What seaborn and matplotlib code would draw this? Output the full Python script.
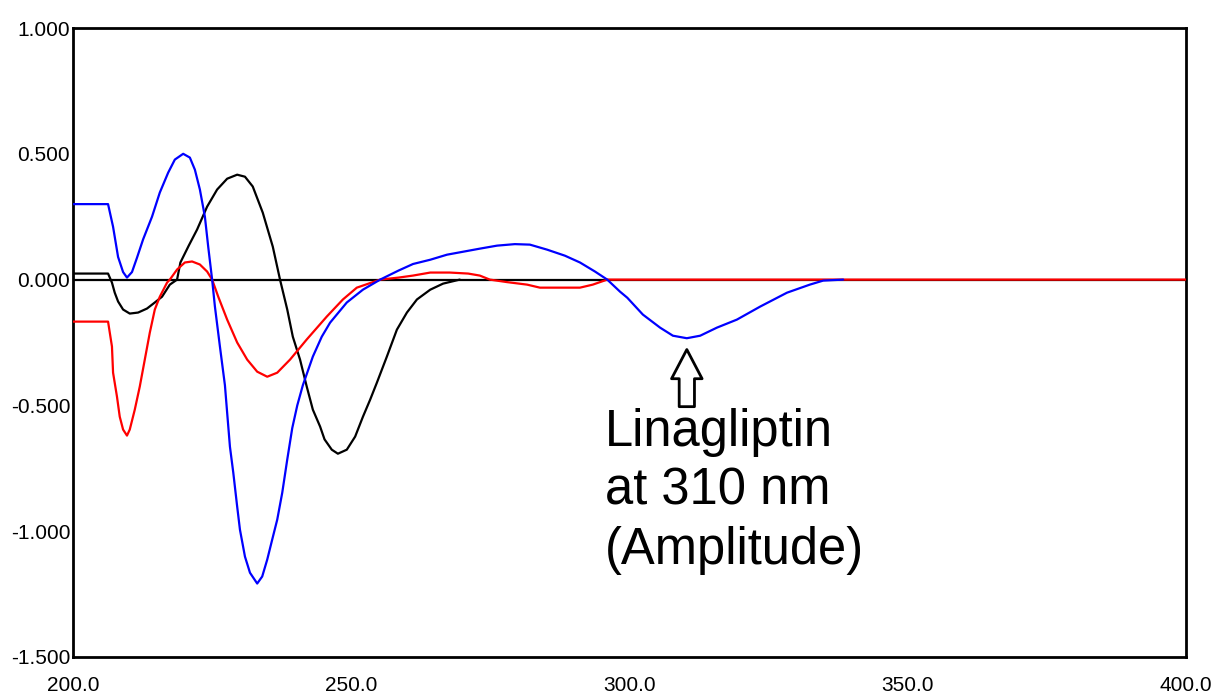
import matplotlib

matplotlib.use("Agg")
import matplotlib.pyplot as plt
import seaborn as sns

# wavelength (nm) / amplitude pairs
blue_x = [200.0, 206.3, 207.2, 208.1, 209.0, 209.7, 210.6, 211.5, 212.6, 214.2,
          215.6, 217.1, 218.3, 219.8, 221.0, 221.9, 222.8, 223.7, 224.3, 225.0,
          225.5, 226.4, 227.3, 227.7, 228.2, 228.8, 229.5, 230.0, 230.9, 231.8,
          233.1, 234.0, 234.9, 235.8, 236.7, 237.6, 238.5, 239.4, 240.3, 241.3,
          243.1, 244.7, 246.2, 249.2, 252.1, 255.2, 258.5, 261.1, 264.2, 267.2,
          273.1, 276.2, 279.4, 282.1, 285.2, 288.4, 291.1, 293.8, 296.0, 298.3,
          299.6, 302.4, 305.5, 307.8, 310.3, 312.7, 315.7, 319.3, 323.5, 328.3,
          332.4, 334.8, 338.4]
blue_y = [0.30, 0.30, 0.21, 0.09, 0.03, 0.008, 0.03, 0.087, 0.16, 0.25,
          0.346, 0.425, 0.477, 0.50, 0.485, 0.437, 0.358, 0.25, 0.13, 0.0,
          -0.107, -0.266, -0.42, -0.529, -0.664, -0.767, -0.902, -0.994, -1.101, -1.165,
          -1.208, -1.180, -1.113, -1.033, -0.954, -0.847, -0.715, -0.590, -0.500, -0.42,
          -0.306, -0.227, -0.171, -0.091, -0.040, 0.0, 0.036, 0.062, 0.079, 0.099,
          0.123, 0.135, 0.141, 0.139, 0.119, 0.095, 0.068, 0.032, 0.0, -0.048,
          -0.072, -0.139, -0.191, -0.223, -0.233, -0.223, -0.191, -0.159, -0.107, -0.052,
          -0.020, -0.004, 0.0]

red_x = [200.0, 206.3, 207.0, 207.2, 207.9, 208.4, 209.0, 209.7, 210.2, 211.1,
         212.0, 212.9, 213.8, 214.7, 215.6, 216.9, 217.4, 218.7, 220.1, 221.4,
         222.8, 224.1, 225.0, 226.1, 227.7, 229.5, 231.3, 233.1, 234.9, 236.7,
         239.0, 242.0, 245.6, 248.5, 251.0, 255.2, 258.5, 261.1, 264.2, 267.7,
         271.0, 273.1, 274.9, 278.0, 281.6, 283.9, 291.1, 293.4, 296.0, 400.0]
red_y = [-0.167, -0.167, -0.266, -0.37, -0.465, -0.545, -0.596, -0.62, -0.596, -0.517,
         -0.425, -0.318, -0.211, -0.119, -0.068, -0.012, 0.0, 0.04, 0.068, 0.072,
         0.06, 0.032, 0.0, -0.068, -0.159, -0.25, -0.318, -0.366, -0.386, -0.37,
         -0.318, -0.238, -0.147, -0.079, -0.032, 0.0, 0.008, 0.016, 0.028, 0.028,
         0.024, 0.016, 0.0, -0.010, -0.020, -0.032, -0.032, -0.020, 0.0, 0.0]

black_x = [200.0, 206.3, 207.0, 207.5, 208.1, 209.0, 210.2, 211.7, 213.3, 214.7,
           216.0, 217.4, 218.7, 219.3, 220.8, 222.3, 224.1, 225.9, 227.7, 229.5,
           230.9, 232.3, 234.1, 235.9, 237.2, 238.5, 239.5, 240.8, 242.0, 243.1,
           244.4, 245.2, 246.5, 247.6, 249.2, 250.7, 252.1, 253.4, 254.6, 256.4,
           258.2, 260.0, 261.8, 264.2, 266.5, 269.5]
black_y = [0.024, 0.024, -0.012, -0.052, -0.087, -0.119, -0.135, -0.131, -0.115, -0.091,
           -0.068, -0.020, 0.0, 0.068, 0.135, 0.199, 0.29, 0.358, 0.401, 0.417,
           0.409, 0.370, 0.266, 0.131, 0.0, -0.119, -0.227, -0.318, -0.425, -0.517,
           -0.584, -0.635, -0.676, -0.692, -0.676, -0.624, -0.545, -0.477, -0.41, -0.306,
           -0.199, -0.131, -0.079, -0.040, -0.016, 0.0]

x_ticks = [200, 250, 300, 350, 400]
y_ticks = [-1.5, -1.0, -0.5, 0.0, 0.5, 1.0]

sns.set_style("white")
plt.rcParams["font.family"] = ["Liberation Sans", "DejaVu Sans"]
plt.rcParams["text.color"] = "black"

fig = plt.figure(figsize=(12.12, 6.95), dpi=100)
ax = fig.add_axes([73 / 1212, 1 - 657 / 695, (1186 - 73) / 1212, (657 - 28) / 695])

ax.axhline(0, color="black", lw=1.6, zorder=1)
sns.lineplot(x=black_x, y=black_y, color="black", lw=1.6, ax=ax, zorder=2)
sns.lineplot(x=red_x, y=red_y, color="#ff0000", lw=1.6, ax=ax, zorder=3)
sns.lineplot(x=blue_x, y=blue_y, color="#0000ff", lw=1.6, ax=ax, zorder=4)

ax.set_xlim(200, 400)
ax.set_ylim(-1.5, 1.0)
ax.set_xticks(x_ticks)
ax.set_xticklabels([f"{v:.1f}" for v in x_ticks])
ax.set_yticks(y_ticks)
ax.set_yticklabels([f"{v:.3f}" for v in y_ticks])
ax.tick_params(axis="x", direction="in", length=7, width=1.5, pad=14,
               labelsize=15, colors="black")
ax.tick_params(axis="y", direction="in", length=8, width=1.5, pad=2,
               labelsize=15, colors="black")
for s in ax.spines.values():
    s.set_color("black")
    s.set_linewidth(2)

# hollow arrow pointing at the 310 nm trough
ax.annotate("", xy=(310.3, -0.278), xytext=(310.3, -0.505),
            arrowprops=dict(arrowstyle="simple,head_length=21,head_width=22,tail_width=11",
                            mutation_scale=1, fc="white", ec="black", lw=2,
                            shrinkA=0, shrinkB=0))
ax.text(295.6, -0.51, "Linagliptin\nat 310 nm\n(Amplitude)", fontsize=36.5,
        color="black", ha="left", va="top", linespacing=1.26)

fig.savefig("out.png", dpi=100)
